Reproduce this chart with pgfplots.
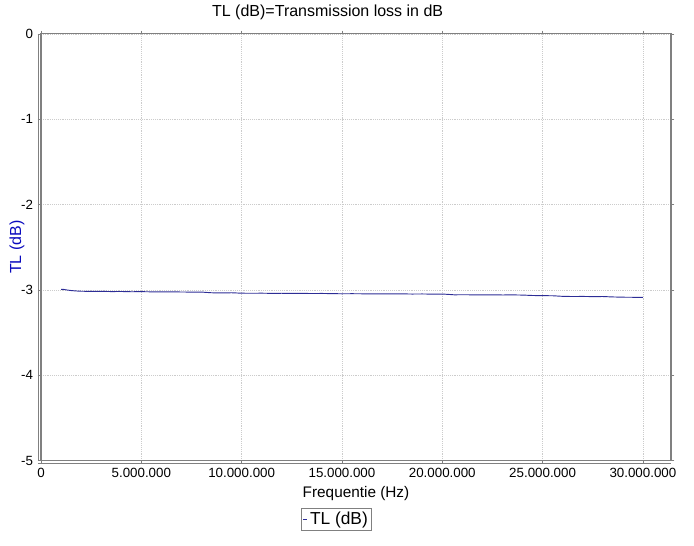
\documentclass[border=0pt]{standalone}
\usepackage{fontspec}
\setmainfont{Liberation Sans}
\usepackage{pgfplots}
\pgfplotsset{compat=1.18}
\definecolor{linenavy}{RGB}{45,45,150}
\definecolor{labelblue}{RGB}{10,10,190}
\begin{document}
\begin{tikzpicture}
\useasboundingbox (-30.75pt,-64.1pt) rectangle (489.75pt,345.4pt);
\begin{axis}[
  at={(0pt,0pt)}, anchor=south west,
  scale only axis, width=472.5pt, height=320pt,
  xmin=0, xmax=31400000, ymin=-5, ymax=0,
  xtick={0,5000000,10000000,15000000,20000000,25000000,30000000},
  xticklabels={0,5.000.000,10.000.000,15.000.000,20.000.000,25.000.000,30.000.000},
  ytick={-5,-4,-3,-2,-1,0},
  yticklabels={-5,-4,-3,-2,-1,0},
  scaled x ticks=false,
  /pgf/number format/assume math mode=true,
  grid=major,
  grid style={densely dotted, gray!40, line width=0.5pt},
  axis line style={gray, line width=0.8pt},
  tick style={gray, line width=0.5pt},
  tick align=outside, major tick length=2.5pt,
  ticklabel style={font=\fontsize{10}{11}\selectfont},
  xticklabel style={yshift=0.5pt},
  title={TL (dB)=Transmission loss in dB},
  title style={at={(axis description cs:0.455,1)}, anchor=base, yshift=6.75pt, font=\fontsize{12}{14}\selectfont},
  xlabel={Frequentie (Hz)},
  xlabel style={at={(axis description cs:0.5,0)}, anchor=base, yshift=-28.1pt, font=\fontsize{11.5}{13}\selectfont},
  ylabel={TL (dB)},
  ylabel style={at={(axis description cs:-0.038,0.5)}, anchor=center, font=\fontsize{12}{14}\selectfont, text=labelblue},
  legend style={at={(0.469,-0.138)}, anchor=center, draw=gray, font=\fontsize{13}{15}\selectfont, inner sep=0.8pt, row sep=0pt, /tikz/every even column/.append style={column sep=1pt}},
  legend image code/.code={\draw[#1] (0pt,0pt) -- (3pt,0pt);},
  after end axis/.code={
    \draw[gray, line width=0.6pt] ([xshift=-2.25pt]rel axis cs:0,0) -- ([xshift=-2.25pt]rel axis cs:0,1);
    \draw[gray, line width=0.6pt] ([yshift=-1.8pt,xshift=-2.25pt]rel axis cs:0,0) -- ([yshift=-1.8pt]rel axis cs:1,0);
  },
]
\addplot[linenavy, line width=0.7pt] coordinates {
(1000000,-2.995) (1100000,-2.993) (1250000,-3.000) (1500000,-3.008) (1750000,-3.013)
(2000000,-3.016) (2500000,-3.018) (3000000,-3.017) (3500000,-3.020) (4000000,-3.019)
(4500000,-3.022) (5000000,-3.021) (5500000,-3.023) (6000000,-3.024) (6500000,-3.023)
(7000000,-3.025) (7500000,-3.026) (8000000,-3.026) (8500000,-3.034) (9000000,-3.036)
(9500000,-3.034) (10000000,-3.039) (10500000,-3.040) (11000000,-3.039) (11500000,-3.041)
(12000000,-3.040) (12500000,-3.042) (13000000,-3.041) (13500000,-3.043) (14000000,-3.042)
(14500000,-3.044) (15000000,-3.046) (15500000,-3.045) (16000000,-3.046) (16500000,-3.047)
(17000000,-3.046) (17500000,-3.048) (18000000,-3.047) (18500000,-3.049) (19000000,-3.048)
(19500000,-3.050) (20000000,-3.049) (20300000,-3.053) (20600000,-3.058) (21000000,-3.057)
(21500000,-3.058) (22000000,-3.059) (22500000,-3.058) (23000000,-3.060) (23500000,-3.059)
(24000000,-3.061) (24500000,-3.066) (25000000,-3.068) (25500000,-3.069) (26000000,-3.076)
(26500000,-3.078) (27000000,-3.077) (27500000,-3.079) (28000000,-3.078) (28500000,-3.083)
(29000000,-3.086) (29500000,-3.087) (30000000,-3.089)
};
\addlegendentry{TL (dB)}
\end{axis}
\end{tikzpicture}
\end{document}
